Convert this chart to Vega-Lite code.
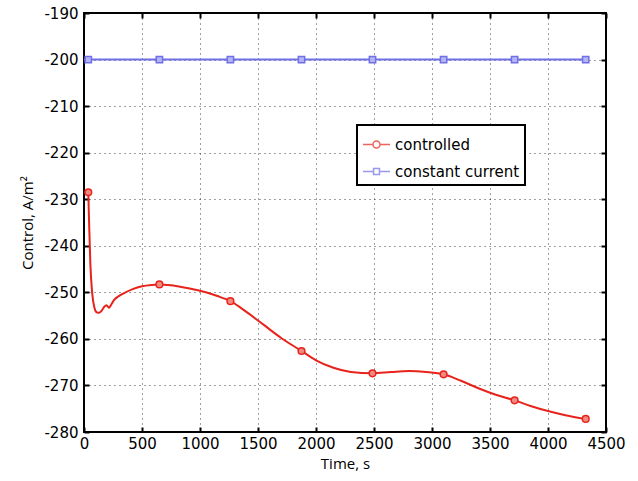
{
  "$schema": "https://vega.github.io/schema/vega-lite/v6.json",
  "width": 522,
  "height": 419,
  "autosize": {"type": "none"},
  "padding": {"left": 84, "top": 13, "right": 32, "bottom": 49},
  "background": "white",
  "datasets": {
    "curve": [
      {"series": "controlled", "t": 37, "v": -228.5},
      {"series": "controlled", "t": 45, "v": -236},
      {"series": "controlled", "t": 55, "v": -244},
      {"series": "controlled", "t": 70, "v": -250},
      {"series": "controlled", "t": 90, "v": -253.3},
      {"series": "controlled", "t": 110, "v": -254.3},
      {"series": "controlled", "t": 130, "v": -254.4},
      {"series": "controlled", "t": 150, "v": -254},
      {"series": "controlled", "t": 175, "v": -253.1},
      {"series": "controlled", "t": 195, "v": -252.8},
      {"series": "controlled", "t": 215, "v": -253.3},
      {"series": "controlled", "t": 235, "v": -252.6},
      {"series": "controlled", "t": 260, "v": -251.6},
      {"series": "controlled", "t": 300, "v": -250.8},
      {"series": "controlled", "t": 350, "v": -250.1},
      {"series": "controlled", "t": 420, "v": -249.3},
      {"series": "controlled", "t": 500, "v": -248.7},
      {"series": "controlled", "t": 580, "v": -248.4},
      {"series": "controlled", "t": 650, "v": -248.3},
      {"series": "controlled", "t": 750, "v": -248.5},
      {"series": "controlled", "t": 850, "v": -248.9},
      {"series": "controlled", "t": 950, "v": -249.4},
      {"series": "controlled", "t": 1050, "v": -250.0},
      {"series": "controlled", "t": 1150, "v": -250.8},
      {"series": "controlled", "t": 1262, "v": -251.9},
      {"series": "controlled", "t": 1400, "v": -254.2},
      {"series": "controlled", "t": 1550, "v": -257},
      {"series": "controlled", "t": 1700, "v": -259.8},
      {"series": "controlled", "t": 1875, "v": -262.6},
      {"series": "controlled", "t": 2000, "v": -264.6},
      {"series": "controlled", "t": 2150, "v": -266.2},
      {"series": "controlled", "t": 2300, "v": -267.1},
      {"series": "controlled", "t": 2487, "v": -267.4},
      {"series": "controlled", "t": 2650, "v": -267.1},
      {"series": "controlled", "t": 2800, "v": -266.9},
      {"series": "controlled", "t": 2950, "v": -267.1},
      {"series": "controlled", "t": 3100, "v": -267.6},
      {"series": "controlled", "t": 3250, "v": -269},
      {"series": "controlled", "t": 3400, "v": -270.6},
      {"series": "controlled", "t": 3550, "v": -272},
      {"series": "controlled", "t": 3712, "v": -273.2},
      {"series": "controlled", "t": 3850, "v": -274.4},
      {"series": "controlled", "t": 4000, "v": -275.5},
      {"series": "controlled", "t": 4150, "v": -276.4},
      {"series": "controlled", "t": 4325, "v": -277.2},
      {"series": "constant current", "t": 0, "v": -200},
      {"series": "constant current", "t": 4325, "v": -200}
    ],
    "markers": [
      {"series": "controlled", "t": 37, "v": -228.5},
      {"series": "controlled", "t": 650, "v": -248.3},
      {"series": "controlled", "t": 1262, "v": -251.9},
      {"series": "controlled", "t": 1875, "v": -262.6},
      {"series": "controlled", "t": 2487, "v": -267.4},
      {"series": "controlled", "t": 3100, "v": -267.6},
      {"series": "controlled", "t": 3712, "v": -273.2},
      {"series": "controlled", "t": 4325, "v": -277.2},
      {"series": "constant current", "t": 37, "v": -200},
      {"series": "constant current", "t": 650, "v": -200},
      {"series": "constant current", "t": 1262, "v": -200},
      {"series": "constant current", "t": 1875, "v": -200},
      {"series": "constant current", "t": 2487, "v": -200},
      {"series": "constant current", "t": 3100, "v": -200},
      {"series": "constant current", "t": 3712, "v": -200},
      {"series": "constant current", "t": 4325, "v": -200}
    ]
  },
  "resolve": {"axis": {"x": "independent", "y": "independent"}},
  "layer": [
    {
      "data": {"name": "curve"},
      "mark": {"type": "line", "strokeWidth": 2, "interpolate": "monotone"},
      "encoding": {
        "x": {
          "field": "t", "type": "quantitative",
          "scale": {"domain": [0, 4500], "nice": false, "zero": false},
          "axis": {"title": "Time, s", "values": [0, 500, 1000, 1500, 2000, 2500, 3000, 3500, 4000, 4500], "labelExpr": "'' + datum.value", "labelOverlap": false, "labelFlush": false, "grid": true, "tickSize": -5, "labelPadding": 9, "titlePadding": 5}
        },
        "y": {
          "field": "v", "type": "quantitative",
          "scale": {"domain": [-280, -190], "nice": false, "zero": false},
          "axis": {"title": "Control, A/m²", "values": [-280, -270, -260, -250, -240, -230, -220, -210, -200, -190], "labelExpr": "'' + datum.value", "labelOverlap": false, "labelFlush": false, "grid": true, "tickSize": -5, "labelPadding": 11, "titlePadding": 8}
        },
        "color": {
          "field": "series", "type": "nominal",
          "scale": {"domain": ["controlled", "constant current"], "range": ["#e8231c", "#6f6fe6"]}
        },
        "detail": {"field": "series"}
      }
    },
    {
      "data": {"name": "markers"},
      "transform": [{"filter": "datum.series === 'controlled'"}],
      "mark": {"type": "point", "shape": "circle", "filled": true, "fill": "#f08a80", "stroke": "#e8231c", "strokeWidth": 1.5, "size": 45, "opacity": 1},
      "encoding": {
        "x": {"field": "t", "type": "quantitative", "axis": {"orient": "top", "labels": false, "title": null, "grid": false, "tickSize": -5, "values": [0, 500, 1000, 1500, 2000, 2500, 3000, 3500, 4000, 4500]}},
        "y": {"field": "v", "type": "quantitative", "axis": {"orient": "right", "labels": false, "title": null, "grid": false, "tickSize": -5, "values": [-280, -270, -260, -250, -240, -230, -220, -210, -200, -190]}}
      }
    },
    {
      "data": {"name": "markers"},
      "transform": [{"filter": "datum.series === 'constant current'"}],
      "mark": {"type": "point", "shape": "square", "filled": true, "fill": "#b4b4f4", "stroke": "#6f6fe6", "strokeWidth": 1.5, "size": 40, "opacity": 1},
      "encoding": {
        "x": {"field": "t", "type": "quantitative", "axis": null},
        "y": {"field": "v", "type": "quantitative", "axis": null}
      }
    },
    {
      "data": {"name": "markers"},
      "transform": [{"filter": "datum.t < 0"}],
      "mark": {"type": "point", "filled": false, "strokeWidth": 1.5},
      "encoding": {
        "x": {"field": "t", "type": "quantitative", "axis": null},
        "y": {"field": "v", "type": "quantitative", "axis": null},
        "color": {"field": "series", "type": "nominal"},
        "shape": {
          "field": "series", "type": "nominal",
          "scale": {"domain": ["controlled", "constant current"], "range": ["M-1,0H-0.26M0.26,0H1M-0.26,0A0.26,0.26,0,1,1,0.26,0A0.26,0.26,0,1,1,-0.26,0Z", "M-1,0H-0.22M0.22,0H1M-0.22,-0.22H0.22V0.22H-0.22Z"]}
        }
      }
    }
  ],
  "config": {
    "view": {"stroke": "black", "strokeWidth": 2},
    "font": "DejaVu Sans",
    "axis": {
      "domain": false,
      "tickColor": "black",
      "tickWidth": 2,
      "labelColor": "black",
      "labelFont": "DejaVu Sans",
      "labelFontSize": 15,
      "titleFont": "Open Sans",
      "titleFontSize": 15,
      "titleFontWeight": "normal",
      "titleColor": "black",
      "gridColor": "#000000",
      "gridDash": [1, 4],
      "gridWidth": 1,
      "gridOpacity": 0.75
    },
    "legend": {
      "orient": "none",
      "legendX": 273,
      "legendY": 112,
      "title": null,
      "strokeColor": "black",
      "strokeWidth": 2,
      "fillColor": "white",
      "padding": 5,
      "symbolSize": 730,
      "symbolStrokeWidth": 1.5,
      "symbolFillColor": "transparent",
      "labelFont": "DejaVu Sans",
      "labelFontSize": 15,
      "labelColor": "black",
      "labelOffset": 4,
      "rowPadding": 4
    }
  }
}
